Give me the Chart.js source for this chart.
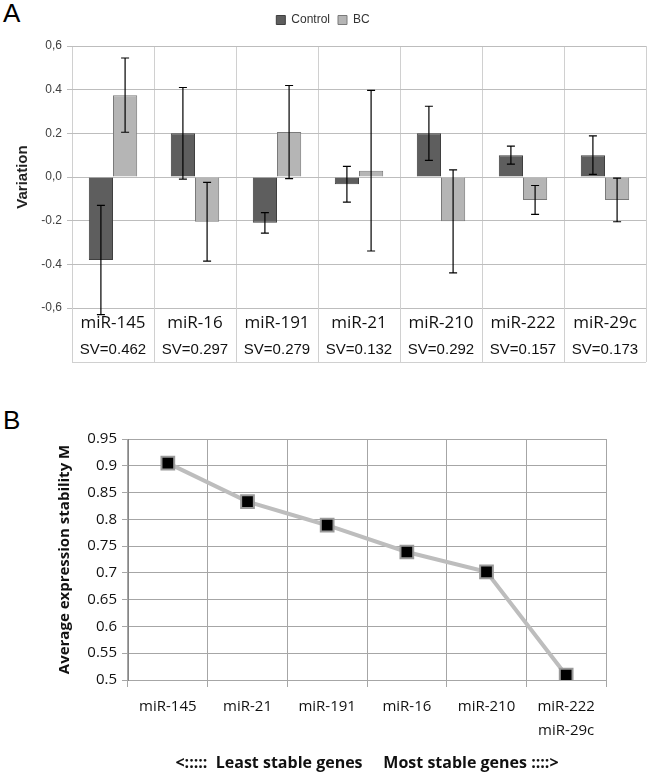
<!DOCTYPE html>
<html>
<head>
<meta charset="utf-8">
<script src="https://cdn.jsdelivr.net/npm/chart.js@4.4.0/dist/chart.umd.min.js"></script>
<style>
  body { margin: 0; background: #fff; width: 648px; height: 775px; position: relative; overflow: hidden; }
  .panel { position: absolute; left: 0; width: 648px; }
  .tag { position: absolute; left: 3px; font: 26px/26px "Liberation Sans", Arial, sans-serif; color: #000; }
</style>
</head>
<body>
<div class="tag" style="top:0px">A</div>
<div class="panel" style="top:0;height:380px"><canvas id="chartA"></canvas></div>
<div class="tag" style="top:407px">B</div>
<div class="panel" style="top:380px;height:395px"><canvas id="chartB"></canvas></div>

<script>
// panel A data
var genesA = ['miR-145', 'miR-16', 'miR-191', 'miR-21', 'miR-210', 'miR-222', 'miR-29c'];
var svLabels = ['SV=0.462', 'SV=0.297', 'SV=0.279', 'SV=0.132', 'SV=0.292', 'SV=0.157', 'SV=0.173'];
var controlVals = [-0.38, 0.2, -0.21, -0.033, 0.2, 0.1, 0.1];
var controlErr = [0.25, 0.21, 0.047, 0.082, 0.124, 0.041, 0.088];
var bcVals = [0.375, -0.205, 0.206, 0.029, -0.203, -0.105, -0.105];
var bcErr = [0.17, 0.18, 0.213, 0.368, 0.236, 0.066, 0.1];
var yTickValsA = [-0.6, -0.4, -0.2, 0, 0.2, 0.4, 0.6];
var yTickTextA = ['-0,6', '-0.4', '-0.2', '0,0', '0.2', '0.4', '0,6'];

// panel B data
var genesB = ['miR-145', 'miR-21', 'miR-191', 'miR-16', 'miR-210', ['miR-222', 'miR-29c']];
var stabilityM = [0.905, 0.833, 0.789, 0.739, 0.702, 0.509];
var yTickValsB = [0.5, 0.55, 0.6, 0.65, 0.7, 0.75, 0.8, 0.85, 0.9, 0.95];
var yTickTextB = ['0.5', '0.55', '0.6', '0.65', '0.7', '0.75', '0.8', '0.85', '0.9', '0.95'];

var arial = '"Liberation Sans", Arial, sans-serif';
var calibri = '"Open Sans", Lato, sans-serif';

function tickText(vals, texts) {
    return function (value) {
        for (var i = 0; i < vals.length; i++) {
            if (Math.abs(vals[i] - value) < 1e-6) return texts[i];
        }
        return '';
    };
}

// error bars on top of each bar
var errorBars = {
    id: 'errorBars',
    afterDatasetsDraw: function (chart) {
        var ctx = chart.ctx;
        var y = chart.scales.y;
        chart.data.datasets.forEach(function (ds, i) {
            if (!ds.errors) return;
            chart.getDatasetMeta(i).data.forEach(function (bar, j) {
                var top = y.getPixelForValue(ds.data[j] + ds.errors[j]);
                var bot = y.getPixelForValue(ds.data[j] - ds.errors[j]);
                ctx.save();
                ctx.strokeStyle = '#000';
                ctx.lineWidth = 1.2;
                ctx.beginPath();
                ctx.moveTo(bar.x, top); ctx.lineTo(bar.x, bot);
                ctx.moveTo(bar.x - 4, top); ctx.lineTo(bar.x + 4, top);
                ctx.moveTo(bar.x - 4, bot); ctx.lineTo(bar.x + 4, bot);
                ctx.stroke();
                ctx.restore();
            });
        });
    }
};

// cell borders of the label table under panel A
var tableLines = {
    id: 'tableLines',
    afterDraw: function (chart) {
        var ctx = chart.ctx;
        var x = chart.scales.x;
        var area = chart.chartArea;
        var bottom = chart.scales.x2.bottom - 2;
        var w = x.width / genesA.length;
        ctx.save();
        ctx.strokeStyle = '#d0d0d0';
        ctx.lineWidth = 1;
        ctx.beginPath();
        for (var i = 0; i <= genesA.length; i++) {
            var px = Math.round(x.left + i * w) + 0.5;
            ctx.moveTo(px, area.bottom);
            ctx.lineTo(px, bottom);
        }
        ctx.moveTo(x.left, bottom + 0.5);
        ctx.lineTo(x.right, bottom + 0.5);
        ctx.stroke();
        ctx.restore();
    }
};

// a little more room under the legend
var legendGap = {
    id: 'legendGap',
    afterInit: function (chart) {
        var fit = chart.legend.fit;
        chart.legend.fit = function () {
            fit.call(this);
            this.height += 10;
        };
    }
};

new Chart(document.getElementById('chartA'), {
    type: 'bar',
    data: {
        labels: genesA,
        datasets: [{
            label: 'Control',
            data: controlVals,
            errors: controlErr,
            backgroundColor: '#5e5e5e',
            borderColor: '#3f3f3f',
            borderWidth: 1,
            xAxisID: 'x'
        }, {
            label: 'BC',
            data: bcVals,
            errors: bcErr,
            backgroundColor: '#b5b5b5',
            borderColor: '#7a7a7a',
            borderWidth: 1,
            xAxisID: 'x'
        }]
    },
    options: {
        responsive: true,
        maintainAspectRatio: false,
        animation: false,
        categoryPercentage: 0.59,
        barPercentage: 1.0,
        layout: { padding: { top: 6, right: 2, bottom: 16, left: 0 } },
        plugins: {
            legend: {
                display: true,
                position: 'top',
                labels: {
                    boxWidth: 9,
                    boxHeight: 9,
                    padding: 8,
                    color: '#333',
                    font: { family: arial, size: 12 }
                }
            },
            tooltip: { enabled: false }
        },
        scales: {
            x: {
                type: 'category',
                position: 'bottom',
                grid: { display: true, offset: true, color: '#d0d0d0', drawTicks: false },
                border: { display: false },
                ticks: { color: '#111', padding: 5, font: { family: calibri, size: 17 } },
                afterFit: function (s) { s.height = 26; }
            },
            x2: {
                type: 'category',
                position: 'bottom',
                labels: svLabels,
                grid: { display: false },
                border: { display: false },
                ticks: { color: '#111', padding: -1, font: { family: arial, size: 15 } },
                afterFit: function (s) { s.height = 30; }
            },
            y: {
                min: -0.6,
                max: 0.6,
                grid: { color: '#bdbdbd', tickLength: 5 },
                border: { display: false },
                ticks: {
                    stepSize: 0.2,
                    padding: 5,
                    color: '#404040',
                    font: { family: arial, size: 12 },
                    callback: tickText(yTickValsA, yTickTextA)
                },
                title: {
                    display: true,
                    text: 'Variation',
                    color: '#222',
                    padding: { top: 14, bottom: 0 },
                    font: { family: arial, size: 15, weight: 'bold' }
                },
                afterFit: function (s) { s.width = 72; }
            }
        }
    },
    plugins: [errorBars, tableLines, legendGap]
});

new Chart(document.getElementById('chartB'), {
    type: 'line',
    data: {
        labels: genesB,
        datasets: [{
            data: stabilityM,
            borderColor: '#bdbdbd',
            borderWidth: 4,
            pointStyle: 'rect',
            pointRadius: 9,
            pointBackgroundColor: '#000',
            pointBorderColor: '#9a9a9a',
            pointBorderWidth: 2,
            tension: 0
        }]
    },
    options: {
        responsive: true,
        maintainAspectRatio: false,
        animation: false,
        layout: { padding: { top: 59, right: 42, bottom: 0, left: 0 } },
        plugins: { legend: { display: false }, tooltip: { enabled: false } },
        scales: {
            x: {
                type: 'category',
                offset: true,
                grid: { offset: true, color: '#a6a6a6', tickLength: 7 },
                border: { display: false },
                ticks: {
                    color: '#111',
                    padding: 8,
                    maxRotation: 0,
                    font: { family: calibri, size: 15, lineHeight: 1.6 }
                },
                title: {
                    display: true,
                    text: '<:::::  Least stable genes     Most stable genes ::::>',
                    color: '#111',
                    padding: { top: 0, bottom: 2 },
                    font: { family: calibri, size: 16, weight: 'bold' }
                },
                afterFit: function (s) { s.height = 95; }
            },
            y: {
                min: 0.5,
                max: 0.95,
                grid: { color: '#a6a6a6', tickLength: 6 },
                border: { display: true, color: '#868686' },
                ticks: {
                    stepSize: 0.05,
                    padding: 5,
                    color: '#111',
                    font: { family: calibri, size: 15 },
                    callback: tickText(yTickValsB, yTickTextB)
                },
                title: {
                    display: true,
                    text: 'Average expression stability M',
                    color: '#111',
                    padding: { top: 56, bottom: 0 },
                    font: { family: calibri, size: 15, weight: 'bold' }
                },
                afterFit: function (s) { s.width = 128; }
            }
        }
    }
});
</script>
</body>
</html>
